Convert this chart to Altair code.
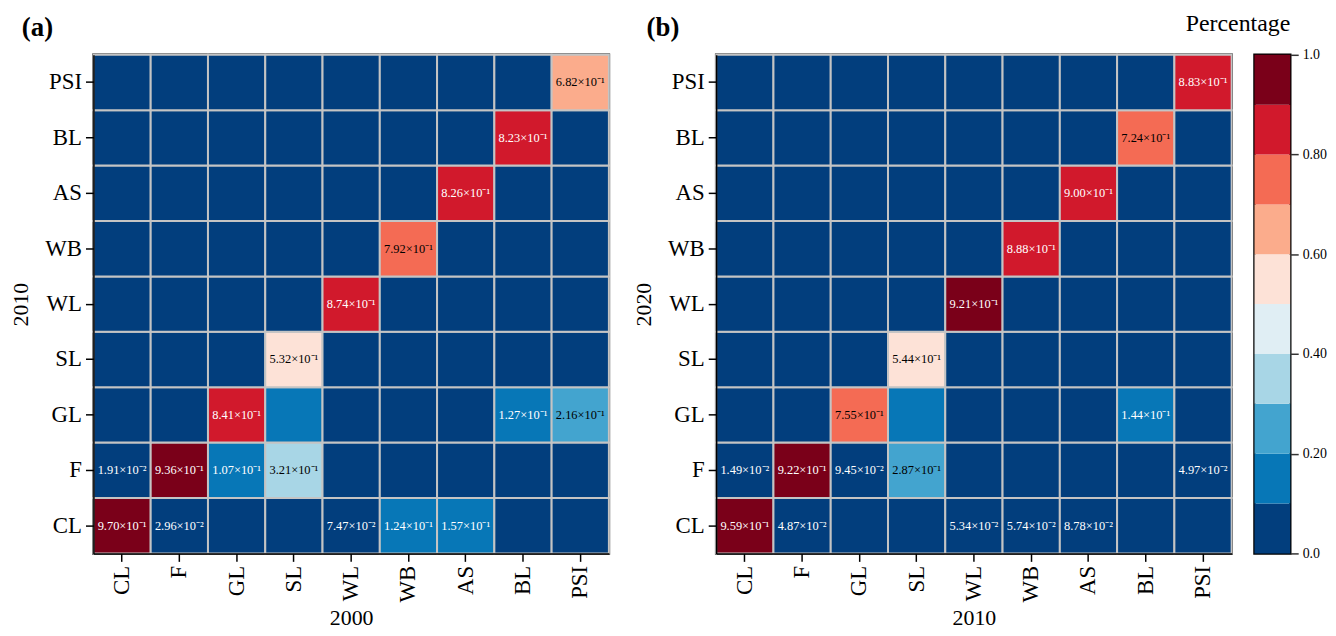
import altair as alt
import numpy as np
import pandas as pd

SERIF = "Liberation Serif"
CATS = ["CL", "F", "GL", "SL", "WL", "WB", "AS", "BL", "PSI"]

# Panel (a): rows = class in 2010, columns = class in 2000.
# Cells not listed are below 0.1 (dark blue, no label).
A_ROWS = ["CL", "CL", "CL", "CL", "CL", "F", "F", "F", "F", "GL", "GL", "GL", "GL", "SL", "WL", "WB", "AS", "BL", "PSI"]
A_COLS = ["CL", "F", "WL", "WB", "AS", "CL", "F", "GL", "SL", "GL", "SL", "BL", "PSI", "SL", "WL", "WB", "AS", "BL", "PSI"]
A_VALS = [0.970, 0.0296, 0.0747, 0.124, 0.157, 0.0191, 0.936, 0.107, 0.321, 0.841, 0.15, 0.127, 0.216, 0.532, 0.874, 0.792, 0.826, 0.823, 0.682]
A_SHOW = [1, 1, 1, 1, 1, 1, 1, 1, 1, 1, 0, 1, 1, 1, 1, 1, 1, 1, 1]

# Panel (b): rows = class in 2020, columns = class in 2010.
B_ROWS = ["CL", "CL", "CL", "CL", "CL", "F", "F", "F", "F", "F", "GL", "GL", "GL", "SL", "WL", "WB", "AS", "BL", "PSI"]
B_COLS = ["CL", "F", "WL", "WB", "AS", "CL", "F", "GL", "SL", "PSI", "GL", "SL", "BL", "SL", "WL", "WB", "AS", "BL", "PSI"]
B_VALS = [0.959, 0.0487, 0.0534, 0.0574, 0.0878, 0.0149, 0.922, 0.0945, 0.287, 0.0497, 0.755, 0.15, 0.144, 0.544, 0.921, 0.888, 0.8996, 0.724, 0.883]
B_SHOW = [1, 1, 1, 1, 1, 1, 1, 1, 1, 1, 1, 0, 1, 1, 1, 1, 1, 1, 1]

# Colour bins (legend)
BIN_LO = [0.0, 0.1, 0.2, 0.3, 0.4, 0.5, 0.6, 0.7, 0.8, 0.9]
BIN_HI = [0.1, 0.2, 0.3, 0.4, 0.5, 0.6, 0.7, 0.8, 0.9, 1.0]
THRESHOLDS = [0.1, 0.2, 0.3, 0.4, 0.5, 0.6, 0.7, 0.8, 0.9]
COLORS = ["#023e7d", "#0777b7", "#43a4cf", "#a8d6e6", "#e0eef4",
          "#fde2d7", "#fbac8c", "#f46b54", "#d1192c", "#7a0019"]
LEG_TICKS = [0.0, 0.2, 0.4, 0.6, 0.8, 1.0]

SUP = {-1: "\u207b\u00b9", -2: "\u207b\u00b2"}


def sci(v):
    e = int(np.floor(np.log10(v)))
    m = v / 10 ** e
    return f"{m:.2f}\u00d710{SUP[e]}"


def build(rows, cols, vals, show):
    lookup = {(r, c): (v, s) for r, c, v, s in zip(rows, cols, vals, show)}
    recs = []
    for r in CATS:
        for c in CATS:
            v, s = lookup.get((r, c), (0.0, 0))
            recs.append({"from": r, "to": c, "value": v, "label": sci(v) if s else ""})
    return pd.DataFrame(recs)


COLOR_SCALE = alt.Scale(type="threshold", domain=THRESHOLDS, range=COLORS)

AX = dict(labelFont=SERIF, titleFont=SERIF, labelColor="black", titleColor="black",
          tickColor="black", tickWidth=1.5, tickSize=8, domainColor="black",
          domainWidth=1.5, titleFontWeight="normal", grid=False)


def panel(df, tag, xtitle, ytitle, dx):
    base = alt.Chart(df).encode(
        x=alt.X("to:N", sort=CATS, title=xtitle,
                axis=alt.Axis(labelAngle=270, labelFontSize=23, titleFontSize=22,
                              labelPadding=4, titlePadding=6, **AX)),
        y=alt.Y("from:N", sort=CATS[::-1], title=ytitle,
                axis=alt.Axis(labelFontSize=23, titleFontSize=22, labelPadding=4,
                              titlePadding=12, **AX)),
    )
    rect = base.mark_rect(stroke="#c4c4c4", strokeWidth=2).encode(
        color=alt.Color("value:Q", scale=COLOR_SCALE, legend=None)
    )
    text = base.transform_filter("datum.label != ''").mark_text(
        font=SERIF, fontSize=12.5
    ).encode(
        text="label:N",
        color=alt.condition("datum.value >= 0.2 && datum.value < 0.8",
                            alt.value("black"), alt.value("white")),
    )
    return alt.layer(rect, text).properties(
        width=519, height=502,
        title=alt.TitleParams(tag, anchor="start", dx=dx, fontSize=27, fontWeight="bold",
                              font=SERIF, color="black", offset=12),
    )


pa = panel(build(A_ROWS, A_COLS, A_VALS, A_SHOW), "(a)", "2000", "2010", 12)
pb = panel(build(B_ROWS, B_COLS, B_VALS, B_SHOW), "(b)", "2010", "2020", 14)

bins = pd.DataFrame({"lo": BIN_LO, "hi": BIN_HI})
bar = alt.Chart(bins).mark_rect().encode(
    x=alt.value(0), x2=alt.value(36),
    y=alt.Y("lo:Q", scale=alt.Scale(domain=[0, 1], nice=False, zero=False),
            axis=alt.Axis(orient="right", values=LEG_TICKS, title=None, domain=False,
                          labelExpr="datum.value == 0 ? '0.0' : datum.value == 1 ? '1.0' : format(datum.value, '.2f')",
                          labelFontSize=14, labelPadding=4, labelFont=SERIF, labelColor="black",
                          tickColor="#333333", tickWidth=1.5, tickSize=8, grid=False)),
    y2="hi:Q",
    color=alt.Color("lo:Q", scale=COLOR_SCALE, legend=None),
).properties(
    width=36, height=502,
    title=alt.TitleParams("Percentage", anchor="end", frame="group", fontSize=24,
                          fontWeight="normal", font=SERIF, color="black", offset=12),
)

chart = alt.hconcat(
    alt.hconcat(pa, pb, spacing=19), bar, spacing=-51
).resolve_scale(color="independent").properties(
    padding={"left": 0, "top": 0, "right": 0, "bottom": 0}
).configure_view(stroke="black", strokeWidth=2.5)

chart.save("out.html", embed_options={"renderer": "svg", "actions": False})
